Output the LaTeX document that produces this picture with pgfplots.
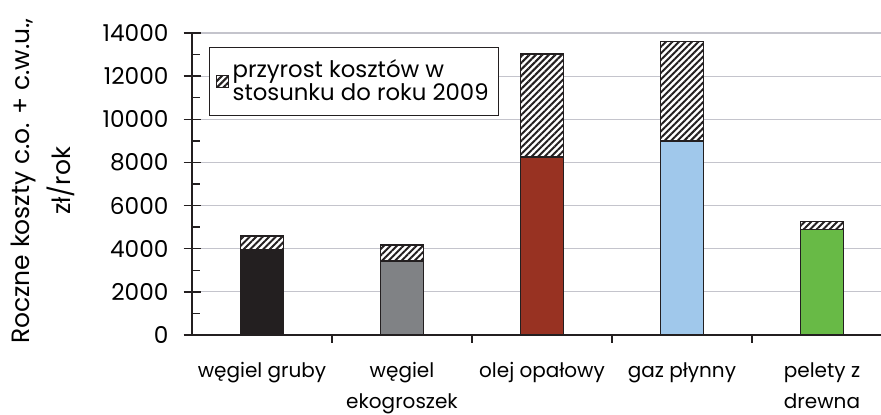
\documentclass[border=0pt]{standalone}
\usepackage{pgfplots}
\pgfplotsset{compat=1.18}
\usetikzlibrary{patterns.meta}
\usepackage{fontspec}
\setmainfont{Poppins}

\definecolor{barblack}{HTML}{231F20}
\definecolor{bargray}{HTML}{808285}
\definecolor{barred}{HTML}{983222}
\definecolor{barblue}{HTML}{A0C8EB}
\definecolor{bargreen}{HTML}{68BA46}
\definecolor{gridgray}{HTML}{C4C4CC}

\tikzset{hatch/.style={fill=white, postaction={pattern={Lines[angle=45,distance=2.3pt,line width=1pt]}, pattern color=barblack}}}

\begin{document}
\begin{tikzpicture}
% the page: 96pt left of the axis, 40pt below, the right end of the axis cut off
\useasboundingbox (-96pt,-40pt) rectangle (344.5pt,167.5pt);
\begin{axis}[
  scale only axis, width=350pt, height=151pt,
  ybar, bar width=21.5pt, bar shift=0pt,
  xmin=-0.5, xmax=4.5, ymin=0, ymax=14000,
  axis x line*=bottom, axis y line*=left,
  axis line style={barblack, line width=0.8pt, -},
  ytick={0,2000,...,14000}, minor y tick num=1,
  xtick={0,1,2,3,4}, minor xtick={0.5,1.5,2.5,3.5},
  xticklabels={w\k{e}giel gruby, w\k{e}giel\\ekogroszek, olej opałowy, gaz płynny, pelety z\\drewna},
  tick align=center, major tick length=8.5pt, minor tick length=4pt,
  every minor y tick/.append style={xshift=2pt},
  every minor x tick/.append style={yshift=-2pt},
  every major x tick/.append style={draw=none},
  tick style={barblack, line width=0.7pt},
  ymajorgrids, major grid style={gridgray, line width=0.6pt},
  xticklabel style={align=center, font=\fontsize{10}{15.5}\selectfont, yshift=-6pt},
  scaled y ticks=false,
  yticklabel style={font=\fontsize{11.6}{13}\selectfont, xshift=-4pt},
  /pgf/number format/.cd, 1000 sep={}, assume math mode=true, /pgfplots/.cd,
  ylabel={Roczne koszty c.o. + c.w.u.,\\zł/rok},
  ylabel style={at={(axis description cs:-0.2136,0.51)}, anchor=center, align=center,
    font=\fontsize{12.5}{20.5}\selectfont},
  legend style={at={(0.0243,0.9536)}, anchor=north west, draw=barblack, line width=0.6pt,
    font=\fontsize{11.4}{11.5}\selectfont, cells={align=left}, inner ysep=4pt},
  legend image code/.code={\draw[#1, line width=0.5pt] (0pt,-3pt) rectangle (6pt,3pt);},
]
\addplot[hatch, draw=barblack, line width=0.75pt] coordinates {(0,4600) (1,4170) (2,13030) (3,13610) (4,5260)};
\addlegendentry{przyrost kosztów w\\stosunku do roku 2009}
\addplot[fill=barblack, draw=barblack, line width=0.75pt, forget plot] coordinates {(0,3930)};
\addplot[fill=bargray, draw=barblack, line width=0.75pt, forget plot] coordinates {(1,3440)};
\addplot[fill=barred, draw=barblack, line width=0.75pt, forget plot] coordinates {(2,8250)};
\addplot[fill=barblue, draw=barblack, line width=0.75pt, forget plot] coordinates {(3,8990)};
\addplot[fill=bargreen, draw=barblack, line width=0.75pt, forget plot] coordinates {(4,4880)};
\end{axis}
\end{tikzpicture}
\end{document}
